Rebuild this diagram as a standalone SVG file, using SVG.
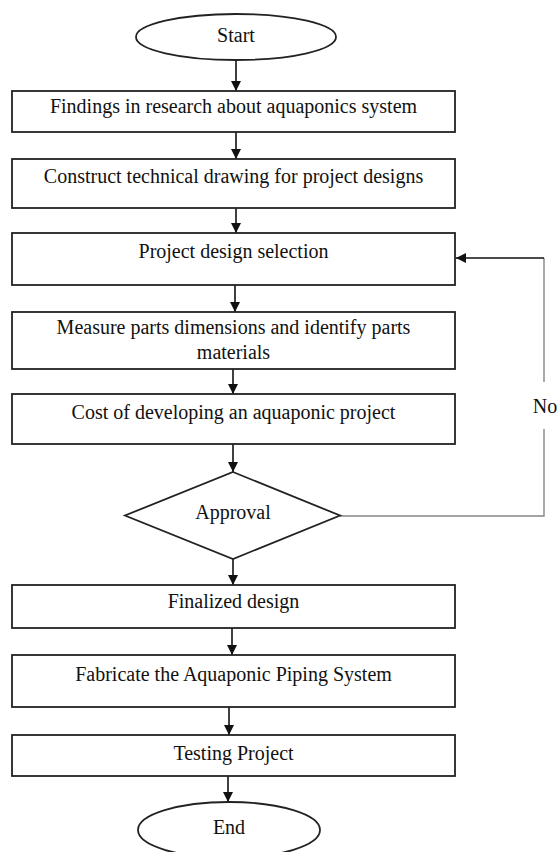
<svg xmlns="http://www.w3.org/2000/svg" width="558" height="852" viewBox="0 0 558 852">
<style>
.box{fill:#fff;stroke:#222;stroke-width:1.8}
.t{font-family:'Liberation Serif','DejaVu Serif',serif;font-size:20px;fill:#111;text-anchor:middle}
.c{fill:none;stroke:#111;stroke-width:1.6}
.g{fill:none;stroke:#858585;stroke-width:1.4}
</style>
<defs>
<marker id="ah" viewBox="0 0 10 10" refX="10" refY="5" markerWidth="10" markerHeight="10" markerUnits="userSpaceOnUse" orient="auto">
<path d="M0,0 L10,5 L0,10 z" fill="#111"/>
</marker>
</defs>
<rect width="558" height="852" fill="#fff"/>
<g id="connectors">
<line class="c" x1="236" y1="60" x2="236" y2="91" marker-end="url(#ah)"/>
<line class="c" x1="236" y1="132" x2="236" y2="159" marker-end="url(#ah)"/>
<line class="c" x1="236" y1="208" x2="236" y2="233" marker-end="url(#ah)"/>
<line class="c" x1="235" y1="285" x2="235" y2="312" marker-end="url(#ah)"/>
<line class="c" x1="233" y1="369" x2="233" y2="394" marker-end="url(#ah)"/>
<line class="c" x1="233" y1="444" x2="233" y2="472" marker-end="url(#ah)"/>
<line class="c" x1="233" y1="559" x2="233" y2="585" marker-end="url(#ah)"/>
<line class="c" x1="232" y1="628" x2="232" y2="655" marker-end="url(#ah)"/>
<line class="c" x1="229" y1="707" x2="229" y2="735" marker-end="url(#ah)"/>
<line class="c" x1="228" y1="776" x2="228" y2="802" marker-end="url(#ah)"/>
<polyline class="g" points="340,516 544,516 544,429"/>
<line class="g" x1="544" y1="382" x2="544" y2="258"/>
<line class="c" x1="544" y1="258" x2="456" y2="258" marker-end="url(#ah)"/>
<text class="t" x="545" y="413">No</text>
</g>
<g id="start">
<ellipse class="box" cx="236" cy="37" rx="100" ry="23"/>
<text class="t" x="236" y="42">Start</text>
</g>
<g id="n1">
<rect class="box" x="12" y="91" width="443" height="41"/>
<text class="t" x="233.5" y="113">Findings in research about aquaponics system</text>
</g>
<g id="n2">
<rect class="box" x="12" y="159" width="443" height="49"/>
<text class="t" x="233.5" y="183">Construct technical drawing for project designs</text>
</g>
<g id="n3">
<rect class="box" x="12" y="233" width="443" height="52"/>
<text class="t" x="233.5" y="258">Project design selection</text>
</g>
<g id="n4">
<rect class="box" x="12" y="312" width="443" height="57"/>
<text class="t" x="233.5" y="334">Measure parts dimensions and identify parts</text>
<text class="t" x="233.5" y="359">materials</text>
</g>
<g id="n5">
<rect class="box" x="12" y="394" width="443" height="50"/>
<text class="t" x="233.5" y="419">Cost of developing an aquaponic project</text>
</g>
<g id="approval">
<polygon class="box" points="233,472 340,515.5 233,559 125,515.5"/>
<text class="t" x="233" y="519">Approval</text>
</g>
<g id="n6">
<rect class="box" x="12" y="585" width="443" height="43"/>
<text class="t" x="233.5" y="608">Finalized design</text>
</g>
<g id="n7">
<rect class="box" x="12" y="655" width="443" height="52"/>
<text class="t" x="233.5" y="681">Fabricate the Aquaponic Piping System</text>
</g>
<g id="n8">
<rect class="box" x="12" y="735" width="443" height="41"/>
<text class="t" x="233.5" y="760">Testing Project</text>
</g>
<g id="end">
<ellipse class="box" cx="229" cy="830" rx="91" ry="28"/>
<text class="t" x="229" y="834">End</text>
</g>
</svg>
